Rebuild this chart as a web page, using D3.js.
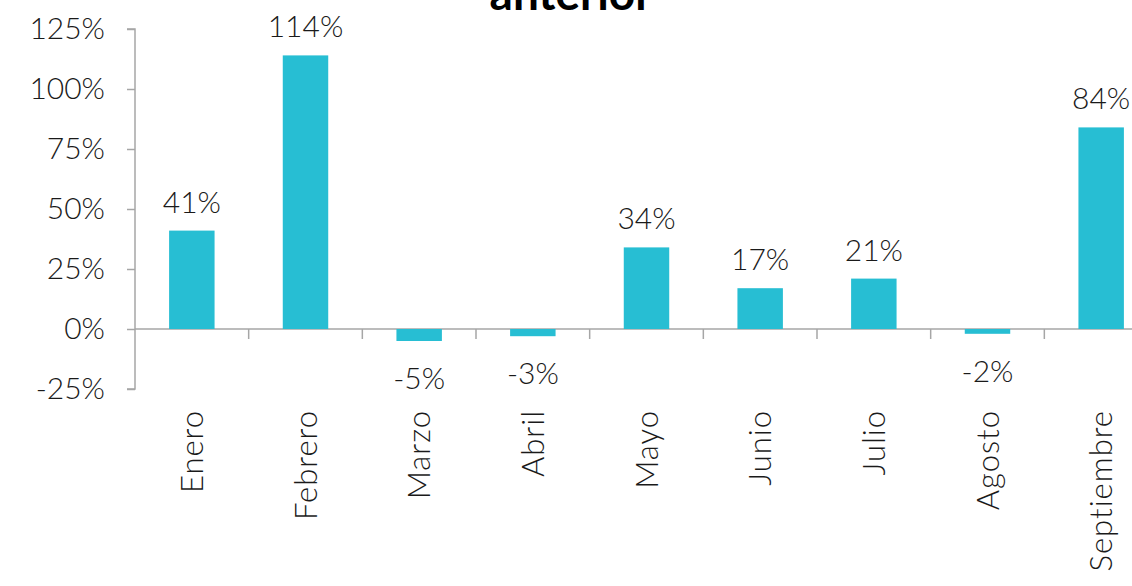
<!DOCTYPE html>
<html lang="es">
<head>
    <meta charset="UTF-8">
    <title>Variación respecto al año anterior</title>
    <style>
        body, html {
            margin: 0;
            padding: 0;
            background-color: #ffffff;
            overflow: hidden;
        }
        svg {
            font-family: Lato, "Open Sans", sans-serif;
            font-weight: 300;
        }
        .axis path, .axis line {
            stroke: #a6a6a6;
            stroke-width: 1.5px;
        }
        .axis text {
            fill: #1a1a1a;
            font-family: Lato, "Open Sans", sans-serif;
            font-weight: 300;
            font-size: 30px;
        }
        .bar {
            fill: #27bed3;
        }
        .value {
            font-size: 30px;
            fill: #1a1a1a;
            text-anchor: middle;
        }
        .month {
            font-size: 31px;
            letter-spacing: 1px;
            fill: #1a1a1a;
        }
    </style>
</head>
<body>
    <div id="chart"></div>

    <script src="https://d3js.org/d3.v7.min.js"></script>

    <script>
        const months = ['Enero', 'Febrero', 'Marzo', 'Abril', 'Mayo', 'Junio', 'Julio', 'Agosto', 'Septiembre'];
        const change = [41, 114, -5, -3, 34, 17, 21, -2, 84];
        const yTicks = [-25, 0, 25, 50, 75, 100, 125];

        const width = 1132;
        const height = 586;

        const svg = d3.select('#chart').append('svg')
            .attr('width', width)
            .attr('height', height);

        // plot area runs past the right edge, like the cropped original
        const x = d3.scaleBand()
            .domain(months)
            .range([135, 1158])
            .paddingInner(0.6)
            .paddingOuter(0.3);

        const y = d3.scaleLinear()
            .domain([-25, 125])
            .range([389, 29]);

        // title: the original is cropped, only the bottom of its last line shows
        svg.append('text')
            .attr('x', 571)
            .attr('y', 10)
            .attr('text-anchor', 'middle')
            .style('font-size', '46px')
            .style('font-weight', 'bold')
            .text('anterior');

        // y axis
        const yAxis = svg.append('g')
            .attr('class', 'axis')
            .attr('transform', 'translate(135,0)')
            .call(d3.axisLeft(y).tickValues(yTicks).tickSize(8).tickPadding(22).tickFormat(d => d + '%'));
        yAxis.select('.domain').attr('d', `M-8,${y(125)}H0V${y(-25)}H-8`);

        // x axis line at zero with ticks between categories
        const bounds = months.slice(1).map(m => x(m) - x.step() * x.paddingInner() / 2);
        const xAxis = svg.append('g').attr('class', 'axis');
        xAxis.append('line')
            .attr('x1', 135).attr('x2', width)
            .attr('y1', y(0)).attr('y2', y(0));
        xAxis.selectAll('line.tick')
            .data(bounds)
            .enter().append('line')
            .attr('class', 'tick')
            .attr('x1', d => d).attr('x2', d => d)
            .attr('y1', y(0)).attr('y2', y(0) + 10);

        // bars
        svg.selectAll('rect.bar')
            .data(months)
            .enter().append('rect')
            .attr('class', 'bar')
            .attr('x', d => x(d))
            .attr('width', x.bandwidth())
            .attr('y', (d, i) => y(Math.max(0, change[i])))
            .attr('height', (d, i) => Math.abs(y(change[i]) - y(0)));

        // value labels
        svg.selectAll('text.value')
            .data(months)
            .enter().append('text')
            .attr('class', 'value')
            .attr('x', d => x(d) + x.bandwidth() / 2)
            .attr('y', (d, i) => change[i] >= 0 ? y(change[i]) - 18 : y(change[i]) + 48)
            .text((d, i) => change[i] + '%');

        // month labels, rotated
        svg.selectAll('text.month')
            .data(months)
            .enter().append('text')
            .attr('class', 'month')
            .attr('transform', d => `translate(${x(d) + x.bandwidth() / 2},410) rotate(-90)`)
            .attr('text-anchor', 'end')
            .attr('dy', '0.36em')
            .text(d => d);
    </script>
</body>
</html>
